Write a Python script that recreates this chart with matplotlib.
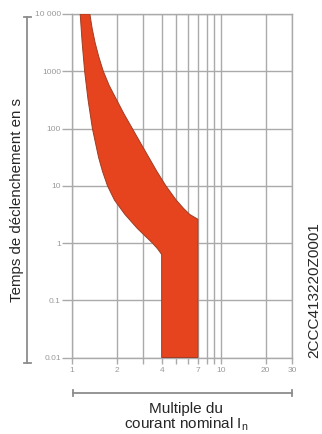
import numpy as np
import matplotlib
matplotlib.use('Agg')
from matplotlib import pyplot as plt
from matplotlib.lines import Line2D

plt.rcParams['font.family'] = ['Liberation Sans', 'DejaVu Sans']

# Tripping band (multiple of In vs. time in s)
# left / lower limit, ends with the vertical drop at 4 x In
lower_t = [10000, 3162, 1000, 316, 100, 31.6, 17.8, 10, 5.62, 3.16, 1.78, 1, 0.79, 0.63, 0.01]
lower_x = [1.135, 1.17, 1.216, 1.282, 1.371, 1.507, 1.603, 1.73, 1.928, 2.265, 2.754, 3.467, 3.758, 4.0, 4.0]
# right / upper limit, ends with the vertical drop at 7 x In
upper_t = [10000, 5623, 3162, 1778, 1000, 562, 316, 178, 100, 56, 31.6, 17.8, 10, 5.6, 4.0, 3.16, 2.6, 0.01]
upper_x = [1.318, 1.365, 1.429, 1.514, 1.622, 1.778, 1.995, 2.239, 2.541, 2.884, 3.273, 3.715, 4.266,
           5.012, 5.623, 6.166, 7.0, 7.0]

x_ticks = [1, 2, 3, 4, 5, 6, 7, 8, 9, 10, 20, 30]
x_labels = ['1', '2', '', '4', '', '', '7', '', '', '10', '20', '30']
y_ticks = [0.01, 0.1, 1, 10, 100, 1000, 10000]
y_labels = ['0.01', '0.1', '1', '10', '100', '1000', '10 000']

W, H = 322, 434
grid_col = '#aaaaaa'
fig = plt.figure(figsize=(W / 100, H / 100), dpi=100)
ax = fig.add_axes([72 / W, 1 - 357.5 / H, 220 / W, 343.5 / H])

# band polygon: down the left edge, back up the right edge
poly_x = lower_x + upper_x[::-1]
poly_t = lower_t + upper_t[::-1]
ax.fill(poly_x, poly_t, facecolor='#e6431f', edgecolor='#a13c22', linewidth=0.7, zorder=3)

ax.set_xscale('log')
ax.set_yscale('log')
ax.set_xlim(1, 30)
ax.set_ylim(0.01, 10000)
ax.set_xticks(x_ticks)
ax.set_xticklabels(x_labels)
ax.set_xticks([], minor=True)
ax.set_yticks(y_ticks)
ax.set_yticklabels(y_labels)
ax.set_yticks([], minor=True)
ax.grid(True, color=grid_col, linewidth=1.0)
ax.tick_params(axis='y', length=7, width=1.0, color=grid_col, pad=1,
               labelsize=6, labelcolor='#999999')
ax.tick_params(axis='x', length=4, width=1.0, color=grid_col, pad=2.5,
               labelsize=6, labelcolor='#999999')
for s in ax.spines.values():
    s.set_color(grid_col)
    s.set_linewidth(1.0)


def px(x, y):
    return x / W, 1 - y / H


br_col = '#8c8c8c'
# brackets next to the axis titles
for (x0, y0), (x1, y1) in [((27, 17), (27, 363)), ((24, 17), (31, 17)), ((24, 363), (31, 363)),
                           ((73, 393), (292, 393)), ((73, 390), (73, 396)), ((292, 390), (292, 396))]:
    a, b = px(x0, y0)
    c, d = px(x1, y1)
    fig.add_artist(Line2D([a, c], [b, d], transform=fig.transFigure, color=br_col, linewidth=1.3))

txt_col = '#262626'
fig.text(*px(17, 200), 'Temps de déclenchement en s', rotation=90, ha='center', va='center',
         fontsize=10.8, color=txt_col)
fig.text(*px(314, 290), '2CCC413220Z0001', rotation=90, ha='center', va='center',
         fontsize=11, color=txt_col)
fig.text(*px(186, 413), 'Multiple du', ha='center', va='baseline', fontsize=11, color=txt_col)
fig.text(*px(186, 428), r'courant nominal I$_\mathregular{n}$', ha='center', va='baseline',
         fontsize=11, color=txt_col)

fig.savefig('out.png', dpi=100)
